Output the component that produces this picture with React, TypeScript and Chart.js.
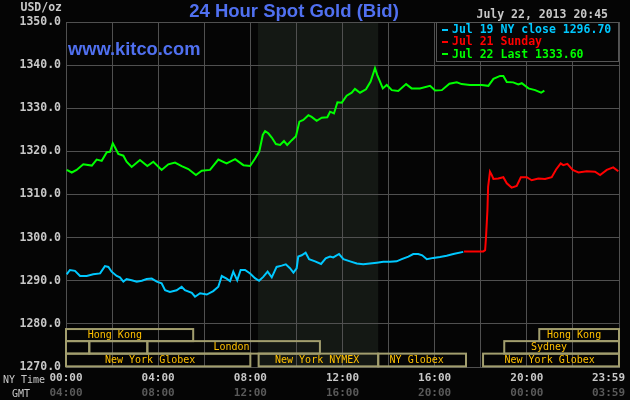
import React, { useEffect, useRef } from "react";
import { Chart, registerables } from "chart.js";

Chart.register(...registerables);

// ---- Data (hours since 00:00 NY time, price USD/oz) ----
const jul19Hours = [0.03, 0.17, 0.39, 0.61, 0.9, 1.18, 1.48, 1.69, 1.84, 1.98, 2.2, 2.34, 2.49, 2.63, 2.85, 3.07, 3.29, 3.5, 3.72, 3.94, 4.15, 4.3, 4.51, 4.8, 5.02, 5.16, 5.46, 5.6, 5.82, 6.11, 6.39, 6.61, 6.76, 6.97, 7.12, 7.26, 7.43, 7.58, 7.77, 7.99, 8.2, 8.38, 8.56, 8.75, 8.93, 9.14, 9.36, 9.54, 9.72, 9.87, 10.01, 10.08, 10.23, 10.4, 10.55, 10.81, 11.07, 11.27, 11.46, 11.6, 11.85, 12.04, 12.33, 12.62, 12.9, 13.19, 13.49, 13.77, 14.06, 14.35, 14.57, 14.86, 15.07, 15.29, 15.46, 15.66, 15.94, 16.23, 16.52, 16.81, 17.24];
const jul19Prices = [1291.5, 1292.5, 1292.3, 1291.1, 1291.1, 1291.5, 1291.7, 1293.4, 1293.2, 1292.1, 1291.1, 1290.8, 1289.8, 1290.4, 1290.1, 1289.8, 1290.0, 1290.4, 1290.5, 1289.8, 1289.4, 1287.8, 1287.4, 1287.8, 1288.6, 1287.8, 1287.2, 1286.3, 1287.1, 1286.8, 1287.6, 1288.6, 1291.1, 1290.5, 1289.9, 1292.1, 1290.1, 1292.5, 1292.5, 1291.7, 1290.6, 1290.0, 1290.9, 1292.1, 1290.8, 1293.2, 1293.5, 1293.8, 1292.9, 1291.9, 1292.9, 1295.6, 1295.9, 1296.5, 1295.0, 1294.5, 1293.9, 1295.2, 1295.6, 1295.4, 1296.2, 1295.0, 1294.5, 1294.0, 1293.8, 1294.0, 1294.2, 1294.4, 1294.4, 1294.5, 1295.0, 1295.6, 1296.2, 1296.2, 1295.9, 1295.0, 1295.3, 1295.5, 1295.8, 1296.2, 1296.7];

const jul21Hours = [17.27, 18.11, 18.19, 18.23, 18.29, 18.32, 18.4, 18.48, 18.55, 18.76, 18.98, 19.13, 19.34, 19.56, 19.74, 20.0, 20.21, 20.5, 20.79, 21.08, 21.27, 21.47, 21.58, 21.76, 21.99, 22.24, 22.6, 22.96, 23.18, 23.47, 23.75, 23.97];
const jul21Prices = [1296.8, 1296.8, 1297.1, 1300.2, 1306.4, 1311.8, 1315.3, 1314.5, 1313.6, 1313.7, 1314.0, 1312.6, 1311.6, 1312.0, 1314.0, 1314.0, 1313.3, 1313.7, 1313.6, 1314.0, 1315.8, 1317.2, 1316.8, 1317.1, 1315.7, 1315.1, 1315.4, 1315.3, 1314.5, 1315.7, 1316.3, 1315.4];

const jul22Hours = [0.03, 0.25, 0.46, 0.75, 1.12, 1.33, 1.55, 1.77, 1.91, 2.03, 2.13, 2.27, 2.49, 2.63, 2.85, 3.21, 3.53, 3.79, 4.15, 4.44, 4.73, 5.02, 5.31, 5.64, 5.89, 6.25, 6.61, 6.97, 7.34, 7.7, 7.99, 8.2, 8.39, 8.54, 8.64, 8.78, 8.93, 9.11, 9.29, 9.46, 9.6, 9.8, 9.98, 10.13, 10.3, 10.52, 10.66, 10.88, 11.1, 11.34, 11.46, 11.63, 11.78, 11.97, 12.18, 12.4, 12.54, 12.76, 13.02, 13.22, 13.41, 13.51, 13.75, 13.92, 14.14, 14.42, 14.76, 15.0, 15.36, 15.8, 16.02, 16.31, 16.64, 16.96, 17.17, 17.53, 18.04, 18.33, 18.55, 18.84, 18.98, 19.13, 19.41, 19.63, 19.78, 20.07, 20.36, 20.62, 20.76];
const jul22Prices = [1315.7, 1315.1, 1315.7, 1317.0, 1316.7, 1318.1, 1317.8, 1319.8, 1319.9, 1321.9, 1320.9, 1319.4, 1319.0, 1317.6, 1316.4, 1318.0, 1316.6, 1317.6, 1315.7, 1317.0, 1317.4, 1316.6, 1315.9, 1314.5, 1315.5, 1315.7, 1318.1, 1317.2, 1318.2, 1316.8, 1316.6, 1318.3, 1320.0, 1323.8, 1324.7, 1324.2, 1323.2, 1321.7, 1321.5, 1322.4, 1321.5, 1322.6, 1323.5, 1326.9, 1327.3, 1328.4, 1328.0, 1327.1, 1327.8, 1327.9, 1329.2, 1328.8, 1331.4, 1331.3, 1332.9, 1333.6, 1334.5, 1333.6, 1334.4, 1336.2, 1339.3, 1337.7, 1334.6, 1335.4, 1334.2, 1334.0, 1335.6, 1334.6, 1334.6, 1335.2, 1334.1, 1334.2, 1335.7, 1336.0, 1335.6, 1335.4, 1335.4, 1335.2, 1336.8, 1337.5, 1337.5, 1336.1, 1336.0, 1335.5, 1335.8, 1334.6, 1334.2, 1333.6, 1334.1];

const seriesLabels = ["Jul 19 NY close 1296.70", "Jul 21 Sunday", "Jul 22 Last 1333.60"];
const seriesColors = ["#00c8ff", "#ff0000", "#00ff00"];

const xTickHours = [0, 4, 8, 12, 16, 20, 24];
const nyTimeLabels = ["00:00", "04:00", "08:00", "12:00", "16:00", "20:00", "23:59"];
const gmtLabels = ["04:00", "08:00", "12:00", "16:00", "20:00", "00:00", "03:59"];

// NYMEX floor session shading (hours)
const nymexShade = [8.33, 13.55];

// Trading session boxes
const sessionRowEdges = [1278.8, 1276.0, 1273.1, 1270.15];
const sessionRows = [0, 0, 1, 1, 1, 1, 2, 2, 2, 2];
const sessionStarts = [0, 20.54, 0, 1.01, 3.53, 19.02, 0, 8.36, 13.55, 18.1];
const sessionEnds = [5.52, 24, 1.01, 3.53, 11.02, 24, 8.0, 13.55, 17.36, 24];
const sessionNames = ["Hong Kong", "Hong Kong", "", "", "London", "Sydney", "New York Globex", "New York NYMEX", "NY Globex", "New York Globex"];
const sessionLabelAt = [2.12, 22.05, 0, 0, 7.18, 20.96, 3.65, 10.9, 15.22, 20.99];

const titleText = "24 Hour Spot Gold (Bid)";
const siteText = "www.kitco.com";
const dateText = "July 22, 2013 20:45";
const unitText = "USD/oz";

const MONO = '"DejaVu Sans Mono", monospace';

const decorPlugin = {
  id: "kitcoDecor",
  beforeDraw(chart: any) {
    const { ctx, chartArea, scales } = chart;
    ctx.save();
    ctx.fillStyle = "#050505";
    ctx.fillRect(0, 0, chart.width, chart.height);
    const x1 = scales.x.getPixelForValue(nymexShade[0]);
    const x2 = scales.x.getPixelForValue(nymexShade[1]);
    ctx.fillStyle = "#141814";
    ctx.fillRect(x1, chartArea.top, x2 - x1, chartArea.bottom - chartArea.top);
    ctx.restore();
  },
  beforeDatasetsDraw(chart: any) {
    const { ctx, scales } = chart;
    const xs = scales.x;
    const ys = scales.y;
    ctx.save();
    ctx.lineWidth = 2;
    ctx.strokeStyle = "#a29e6e";
    for (let i = 0; i < sessionRows.length; i++) {
      const r = sessionRows[i];
      const top = ys.getPixelForValue(sessionRowEdges[r]);
      const bot = ys.getPixelForValue(sessionRowEdges[r + 1]);
      const l = xs.getPixelForValue(sessionStarts[i]);
      const rr = xs.getPixelForValue(sessionEnds[i]);
      ctx.strokeRect(l, top, rr - l, bot - top);
    }
    ctx.font = `10px ${MONO}`;
    ctx.fillStyle = "#ffc000";
    ctx.textAlign = "center";
    ctx.textBaseline = "middle";
    for (let i = 0; i < sessionRows.length; i++) {
      if (!sessionNames[i]) continue;
      const r = sessionRows[i];
      const top = ys.getPixelForValue(sessionRowEdges[r]);
      const bot = ys.getPixelForValue(sessionRowEdges[r + 1]);
      ctx.fillText(sessionNames[i], xs.getPixelForValue(sessionLabelAt[i]), (top + bot) / 2 + 0.5);
    }
    ctx.restore();
  },
  afterDatasetsDraw(chart: any) {
    const { ctx, chartArea } = chart;
    ctx.save();
    // legend box
    const lx = 436, ly = chartArea.top, lw = chartArea.right - 436, lh = 39;
    ctx.fillStyle = "#050505";
    ctx.fillRect(lx, ly, lw, lh);
    ctx.strokeStyle = "#555555";
    ctx.lineWidth = 1;
    ctx.strokeRect(lx + 0.5, ly + 0.5, lw - 1, lh);
    ctx.font = `bold 11.5px ${MONO}`;
    ctx.textAlign = "left";
    ctx.textBaseline = "middle";
    for (let i = 0; i < seriesLabels.length; i++) {
      const yy = ly + 7.5 + i * 12.3;
      ctx.fillStyle = seriesColors[i];
      ctx.fillRect(442, Math.round(yy) - 1, 6, 2);
      ctx.fillText(seriesLabels[i], 452, yy + 0.5);
    }
    ctx.restore();
  },
  afterDraw(chart: any) {
    const { ctx, scales } = chart;
    const xs = scales.x;
    ctx.save();
    // title
    ctx.fillStyle = "#5070f0";
    ctx.font = 'bold 18.5px "Liberation Sans", Arial, sans-serif';
    ctx.textAlign = "center";
    ctx.textBaseline = "alphabetic";
    ctx.fillText(titleText, 294, 17);
    ctx.font = 'bold 18.3px "Liberation Sans", Arial, sans-serif';
    ctx.textAlign = "left";
    ctx.fillText(siteText, 68, 55);
    // date & unit
    ctx.font = `bold 11.5px ${MONO}`;
    ctx.fillStyle = "#c8c8c8";
    ctx.textBaseline = "middle";
    ctx.textAlign = "right";
    ctx.fillText(dateText, 608, 15);
    ctx.fillText(unitText, 62, 8);
    // x tick labels
    ctx.font = `bold 11px ${MONO}`;
    ctx.textAlign = "center";
    for (let i = 0; i < xTickHours.length; i++) {
      let px = xs.getPixelForValue(xTickHours[i]);
      const w = ctx.measureText(nyTimeLabels[i]).width;
      if (px + w / 2 > chart.width - 5) px = chart.width - 5 - w / 2;
      ctx.fillStyle = "#c8c8c8";
      ctx.fillText(nyTimeLabels[i], px, 378.5);
      ctx.fillStyle = "#5a5a5a";
      ctx.fillText(gmtLabels[i], px, 393.5);
    }
    ctx.font = `10px ${MONO}`;
    ctx.fillStyle = "#c8c8c8";
    ctx.textAlign = "left";
    ctx.fillText("NY Time", 3, 380);
    ctx.fillText("GMT", 12, 394);
    ctx.restore();
  },
};

function toPoints(hours: number[], prices: number[]) {
  return hours.map((h, i) => ({ x: h, y: prices[i] }));
}

export default function App() {
  const ref = useRef<HTMLCanvasElement>(null);
  useEffect(() => {
    const canvas = ref.current;
    if (!canvas) return;
    const chart = new Chart(canvas, {
      type: "line",
      data: {
        datasets: [
          { label: seriesLabels[0], data: toPoints(jul19Hours, jul19Prices), borderColor: seriesColors[0], backgroundColor: seriesColors[0] },
          { label: seriesLabels[1], data: toPoints(jul21Hours, jul21Prices), borderColor: seriesColors[1], backgroundColor: seriesColors[1] },
          { label: seriesLabels[2], data: toPoints(jul22Hours, jul22Prices), borderColor: seriesColors[2], backgroundColor: seriesColors[2] },
        ],
      },
      options: {
        animation: false,
        responsive: false,
        devicePixelRatio: 1,
        layout: { padding: { top: 22, right: 11, left: 0, bottom: 0 } },
        elements: {
          point: { radius: 0, hoverRadius: 0 },
          line: { borderWidth: 2, tension: 0 },
        },
        plugins: {
          legend: { display: false },
          title: { display: false },
          tooltip: { enabled: false },
        },
        events: [],
        scales: {
          x: {
            type: "linear",
            min: 0,
            max: 24,
            afterFit: (s: any) => { s.height = 33; },
            grid: { color: "#505050", lineWidth: 1, drawTicks: false },
            border: { display: true, color: "#505050" },
            ticks: { stepSize: 2, display: false, autoSkip: false },
          },
          y: {
            min: 1270,
            max: 1350,
            afterFit: (s: any) => { s.width = 66; },
            grid: { color: "#505050", lineWidth: 1, drawTicks: false },
            border: { display: true, color: "#505050" },
            ticks: {
              stepSize: 10,
              padding: 5,
              color: "#c8c8c8",
              font: { family: "DejaVu Sans Mono", size: 11.5, weight: "bold" },
              callback: (v: any) => Number(v).toFixed(1),
            },
          },
        },
      },
      plugins: [decorPlugin],
    });
    return () => chart.destroy();
  }, []);
  return (
    <div style={{ position: "fixed", left: 0, top: 0, width: 630, height: 400, background: "#050505" }}>
      <canvas ref={ref} width={630} height={400} style={{ display: "block", width: 630, height: 400 }} />
    </div>
  );
}
